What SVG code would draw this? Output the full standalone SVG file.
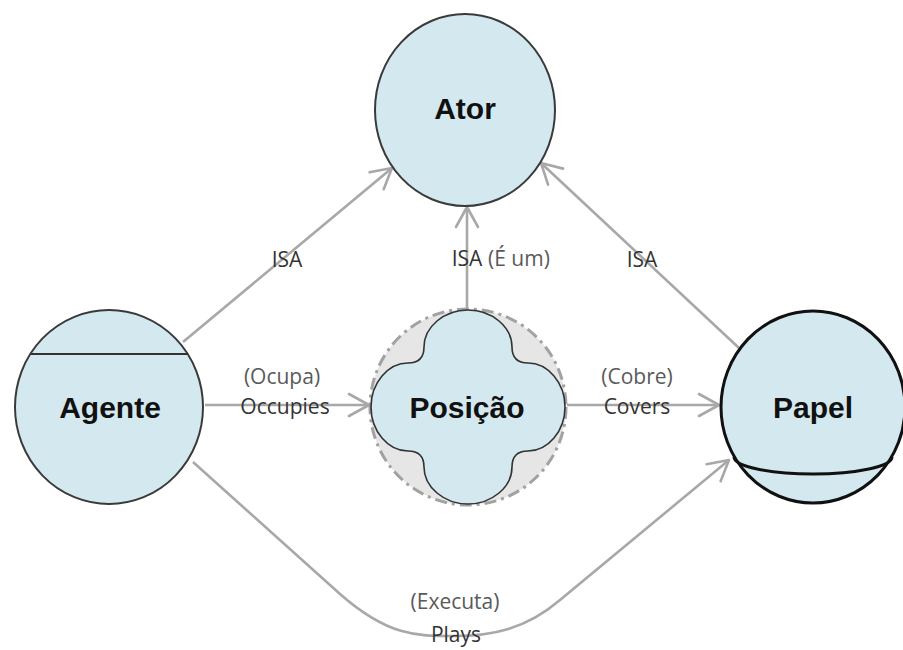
<svg xmlns="http://www.w3.org/2000/svg" width="903" height="650" viewBox="0 0 903 650">
<defs>
<style>
.node{fill:#d4e9ef;}
.soft{stroke:#3a3a3a;stroke-width:2;}
.lbl{font-family:"Liberation Sans",Arial,sans-serif;font-weight:bold;font-size:30px;fill:#111;text-anchor:middle;}
.edge{fill:none;stroke:#a8a8a8;stroke-width:2.6;}
.et{font-family:"Open Sans","Noto Sans",sans-serif;font-size:21px;text-anchor:middle;}
.dark{fill:#333;}
.grey{fill:#5a5a5a;}
</style>
<marker id="arr" markerUnits="userSpaceOnUse" markerWidth="30" markerHeight="30" viewBox="-24 -15 30 30" refX="0" refY="0" orient="auto">
<path d="M-20,-11 L0,0 L-20,11" fill="none" stroke="#a8a8a8" stroke-width="2.6" stroke-linecap="round" stroke-linejoin="round"/>
</marker>
</defs>
<rect width="903" height="650" fill="#fff"/>

<g id="connectors">
<line class="edge" x1="183" y1="342" x2="392" y2="168" marker-end="url(#arr)"/>
<line class="edge" x1="739" y1="348" x2="541" y2="163" marker-end="url(#arr)"/>
<line class="edge" x1="467" y1="309" x2="467" y2="207" marker-end="url(#arr)"/>
<line class="edge" x1="205" y1="405" x2="369" y2="405" marker-end="url(#arr)"/>
<line class="edge" x1="567" y1="405" x2="719" y2="405" marker-end="url(#arr)"/>
<path class="edge" d="M193,462 L340,594 C390,638 420,636 455,636 C490,636 525,630 560,600 L729,460" marker-end="url(#arr)"/>
<text class="et dark" x="287" y="267">ISA</text>
<text class="et dark" x="642" y="267">ISA</text>
<text class="et dark" x="467" y="266">ISA</text>
<text class="et grey" x="488" y="266" style="text-anchor:start">(É um)</text>
<text class="et grey" x="282" y="384">(Ocupa)</text>
<text class="et dark" x="285" y="414">Occupies</text>
<text class="et grey" x="637" y="384">(Cobre)</text>
<text class="et dark" x="637" y="414">Covers</text>
<text class="et grey" x="455" y="609">(Executa)</text>
<text class="et dark" x="456" y="642">Plays</text>
</g>

<g id="ator">
<ellipse class="node soft" cx="465" cy="110" rx="90" ry="96"/>
<text class="lbl" x="465" y="119">Ator</text>
</g>

<g id="agente">
<ellipse class="node soft" cx="109" cy="407" rx="94" ry="97"/>
<line x1="31" y1="354" x2="188" y2="354" stroke="#333" stroke-width="2"/>
<text class="lbl" x="110" y="418">Agente</text>
</g>

<g id="posicao">
<circle cx="468" cy="407" r="98" fill="#e6e6e6" stroke="#a2a2a2" stroke-width="3" stroke-dasharray="12 5 3 5"/>
<path class="node" stroke="#333" stroke-width="1.6" d="M468,310 C492,310 512,327 512,347 Q512,363 528,363 C548,363 565,383 565,407 C565,431 548,451 528,451 Q512,451 512,467 C512,487 492,504 468,504 C444,504 424,487 424,467 Q424,451 408,451 C388,451 371,431 371,407 C371,383 388,363 408,363 Q424,363 424,347 C424,327 444,310 468,310 Z"/>
<text class="lbl" x="467" y="418">Posição</text>
</g>

<g id="papel">
<ellipse class="node" cx="813" cy="407" rx="92" ry="96" stroke="#111" stroke-width="3"/>
<path d="M734,457 A79,17 0 0 0 892,457" fill="none" stroke="#111" stroke-width="3"/>
<text class="lbl" x="813" y="418">Papel</text>
</g>
</svg>
